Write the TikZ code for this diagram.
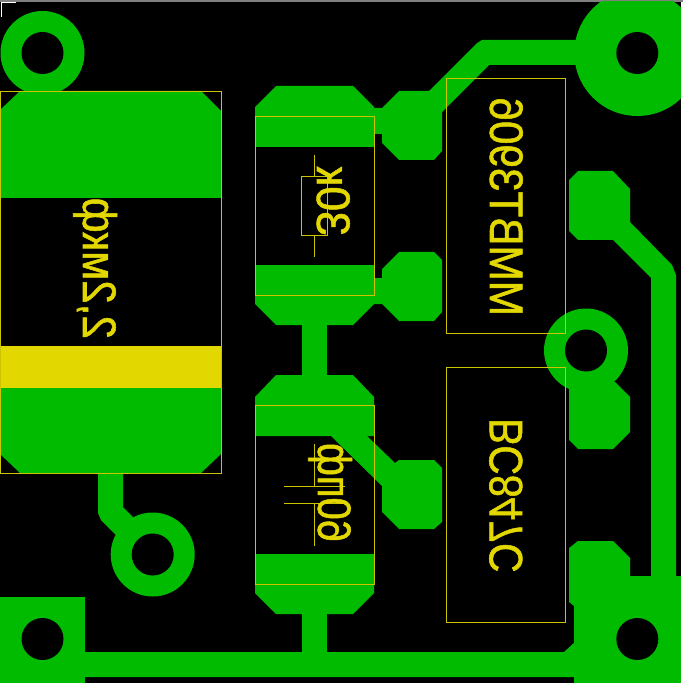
\documentclass[tikz,border=0pt]{standalone}
\usepackage{fontspec}
\setmainfont{Liberation Sans}
\newfontfamily\silkfont[RawFeature={embolden=1.2}]{Liberation Sans}
\definecolor{cu}{RGB}{0,187,0}
\definecolor{silk}{RGB}{226,216,0}
\definecolor{silkline}{RGB}{205,196,0}
\tikzset{
  copper/.style={fill=cu,draw=none},
  drillhole/.style={fill=black,draw=none},
  outline/.style={draw=silkline,line width=0.9pt},
  txt/.style={inner sep=0pt,outer sep=0pt,text=silk,anchor=base west,font=\silkfont\fontsize{47}{47}\selectfont,transform shape}
}
\begin{document}
\begin{tikzpicture}[x=1pt,y=-1pt]
\useasboundingbox (0,0) rectangle (683,684);
\fill[white] (0,0) rectangle (683,684);
\fill[black] (0,2) rectangle (681,683);
\fill[gray] (0,0) rectangle (683,2);
\begin{scope}
\clip (0,2) rectangle (681,683);
% big capacitor pads
\fill[copper] (0,110)--(20,91)--(201,91)--(221,111)--(221,198)--(0,198)--cycle;
\fill[copper] (0,388)--(221,388)--(221,454)--(201,473)--(20,473)--(0,454)--cycle;
\fill[silk] (0,346) rectangle (221,388);
% trace to lower ring
\fill[copper] (98,473)--(123,473)--(123,507)--(136,520)--(118,537)--(101,520)--(98,513)--cycle;
% rings
\fill[copper] (42.5,53) circle[radius=42];
\fill[copper] (152.7,554.5) circle[radius=42];
\fill[copper] (586,350.5) circle[radius=42];
\fill[copper] (637.3,53) circle[radius=63];
% squares
\fill[copper] (0,597) rectangle (85,683);
\fill[copper] (574,576) rectangle (681,683);
% bottom trace
\fill[copper] (80,652)--(564,652)--(576,641)--(576,677)--(80,677)--cycle;
% resistor pads
\fill[copper] (276,86)--(353,86)--(374,107)--(374,147)--(255,147)--(255,107)--cycle;
\fill[copper] (255,265)--(374,265)--(374,304)--(353,325)--(276,325)--(255,304)--cycle;
\fill[copper] (302,320) rectangle (327,380);
\fill[copper] (276,375)--(353,375)--(374,397)--(374,436)--(255,436)--(255,397)--cycle;
\fill[copper] (255,554)--(374,554)--(374,593)--(353,614)--(276,614)--(255,593)--cycle;
\fill[copper] (302,610) rectangle (327,656);
% transistor pad 1 with trace to top-right pad
\fill[copper] (370,108)--(382,108)--(399,91)--(429,91)--(477,43)--(482,40)--(580,40)--(580,65)--(489,65)--(442,112)--(442,151)--(434,160)--(399,160)--(382,143)--(382,134)--(370,134)--cycle;
% transistor pad 2
\fill[copper] (370,278)--(382,278)--(382,269)--(399,252)--(434,252)--(442,260)--(442,312)--(434,321)--(399,321)--(382,304)--(370,304)--cycle;
% lower pad with diagonal
\fill[copper] (331,434)--(331,436)--(382,486)--(382,512)--(399,529)--(434,529)--(442,522)--(442,468)--(434,460)--(399,460)--(395,463)--(367,436)--(367,434)--cycle;
% right pads
\fill[copper] (569,180)--(578,171)--(613,171)--(630,189)--(630,222)--(672,265)--(676,275)--(676,580)--(651,580)--(651,278)--(613,240)--(578,240)--(569,231)--cycle;
\fill[copper] (569,375)--(615,382)--(630,397)--(630,432)--(613,449)--(578,449)--(569,440)--cycle;
\fill[copper] (569,548)--(578,541)--(613,541)--(630,558)--(630,580)--(580,610)--(574,606)--(569,602)--cycle;
% drill holes
\fill[drillhole] (42.5,53) circle[radius=21];
\fill[drillhole] (152.7,554.5) circle[radius=21];
\fill[drillhole] (586,350.5) circle[radius=21];
\fill[drillhole] (637.3,53) circle[radius=21];
\fill[drillhole] (42.5,639) circle[radius=21];
\fill[drillhole] (637.3,639) circle[radius=21];
\end{scope}
% outlines
\draw[outline] (0.5,91) rectangle (221,473);
\draw[outline] (255,116.5) rectangle (374,295.5);
\draw[outline] (255,405.5) rectangle (374,584.5);
\draw[outline] (446.5,78.5) rectangle (565.5,333.5);
\draw[outline] (446.5,367.5) rectangle (565.5,622.5);
% resistor symbol
\draw[outline] (301.5,176) rectangle (327,235);
\draw[outline] (314.5,155)--(314.5,176) (314.5,235)--(314.5,257);
% capacitor symbol
\draw[outline] (314.5,444)--(314.5,486.5) (284,486.5)--(345,486.5);
\draw[outline] (314.5,503.5)--(314.5,546) (284,503.5)--(345,503.5);
% corner mark
\draw[white,line width=0.8pt] (16,2.5)--(1,2.5)--(1,17);
% texts, mirrored as on the bottom layer
\node[txt,cm={0,0.9,1,0,(0,0)}] (t1) at (490,316) {MMBT3906};
\node[txt,cm={0,-0.87,-1,0,(0,0)}] (t2) at (522,418) {BC847C};
\node[txt,cm={0,0.9,1,0,(0,0)}] (t3) at (83,339) {2,2мкф};
\node[txt,cm={0,0.95,1,0,(0,0)}] (t4) at (317,236) {30к};
\node[txt,cm={0,0.85,1,0,(0,0)}] (t5) at (318,542) {60пф};
\end{tikzpicture}
\end{document}
